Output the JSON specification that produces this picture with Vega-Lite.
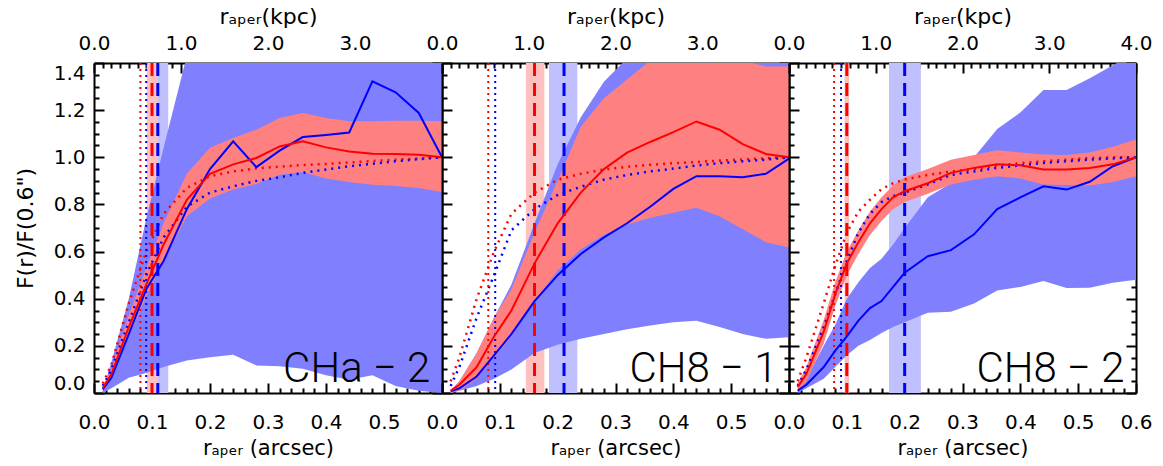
{
"$schema":"https://vega.github.io/schema/vega-lite/v6.json",
"padding":{"left":14,"top":5,"right":0,"bottom":0},
"spacing":0,
"bounds":"flush",
"config":{"view":{"stroke":null},"axis":{"domainColor":"black","domainWidth":2,"tickColor":"black","tickWidth":2,"labelFont":"DejaVu Sans","labelFontSize":20,"labelColor":"black","titleFont":"DejaVu Sans","titleFontSize":21,"titleFontWeight":"normal","titleColor":"black","grid":false,"labelOverlap":false,"labelBound":false,"labelFlush":false}},
"datasets":{
"p1":[
{"r":0.015,"bl":0,"bh":0.01,"rl":0.01,"rh":0.03,"b":0.015,"rd":0.02,"bp":0.03,"rp":0.04},
{"r":0.03,"bl":0.02,"bh":0.13,"rl":0.06,"rh":0.1,"b":0.065,"rd":0.08,"bp":0.1,"rp":0.12},
{"r":0.06,"bl":0.065,"bh":0.4,"rl":0.24,"rh":0.33,"b":0.25,"rd":0.28,"bp":0.3,"rp":0.38},
{"r":0.09,"bl":0.085,"bh":0.74,"rl":0.41,"rh":0.53,"b":0.44,"rd":0.46,"bp":0.5,"rp":0.6},
{"r":0.12,"bl":0.11,"bh":1.04,"rl":0.56,"rh":0.72,"b":0.56,"rd":0.63,"bp":0.66,"rp":0.76},
{"r":0.16,"bl":0.138,"bh":1.43,"rl":0.75,"rh":0.93,"b":0.78,"rd":0.82,"bp":0.79,"rp":0.87},
{"r":0.2,"bl":0.152,"bh":1.85,"rl":0.825,"rh":1.04,"b":0.95,"rd":0.93,"bp":0.85,"rp":0.92},
{"r":0.24,"bl":0.162,"bh":2,"rl":0.863,"rh":1.082,"b":1.068,"rd":0.97,"bp":0.877,"rp":0.94},
{"r":0.28,"bl":0.117,"bh":2,"rl":0.887,"rh":1.117,"b":0.958,"rd":0.997,"bp":0.9,"rp":0.953},
{"r":0.32,"bl":0.113,"bh":2,"rl":0.926,"rh":1.167,"b":1.028,"rd":1.046,"bp":0.915,"rp":0.96},
{"r":0.36,"bl":0.103,"bh":2,"rl":0.938,"rh":1.188,"b":1.086,"rd":1.068,"bp":0.934,"rp":0.967},
{"r":0.4,"bl":0.075,"bh":2,"rl":0.91,"rh":1.167,"b":1.095,"rd":1.042,"bp":0.948,"rp":0.972},
{"r":0.44,"bl":0.056,"bh":2,"rl":0.895,"rh":1.153,"b":1.105,"rd":1.025,"bp":0.962,"rp":0.978},
{"r":0.48,"bl":0.075,"bh":2,"rl":0.884,"rh":1.153,"b":1.322,"rd":1.015,"bp":0.972,"rp":0.984},
{"r":0.52,"bl":0.03,"bh":2,"rl":0.878,"rh":1.155,"b":1.276,"rd":1.014,"bp":0.983,"rp":0.99},
{"r":0.56,"bl":0.01,"bh":2,"rl":0.87,"rh":1.155,"b":1.188,"rd":1.011,"bp":0.992,"rp":0.995},
{"r":0.6,"bl":0,"bh":2,"rl":0.853,"rh":1.153,"b":1.0,"rd":1.0,"bp":1.0,"rp":1.0}],
"p2":[
{"r":0.015,"bl":0,"bh":0.01,"rl":0,"rh":0.01,"b":0.007,"rd":0.01,"bp":0.03,"rp":0.05},
{"r":0.03,"bl":0.01,"bh":0.05,"rl":0.01,"rh":0.05,"b":0.02,"rd":0.035,"bp":0.11,"rp":0.15},
{"r":0.06,"bl":0.03,"bh":0.17,"rl":0.06,"rh":0.17,"b":0.07,"rd":0.11,"bp":0.32,"rp":0.4},
{"r":0.09,"bl":0.06,"bh":0.32,"rl":0.15,"rh":0.32,"b":0.16,"rd":0.24,"bp":0.5,"rp":0.6},
{"r":0.12,"bl":0.1,"bh":0.46,"rl":0.24,"rh":0.44,"b":0.25,"rd":0.35,"bp":0.69,"rp":0.76},
{"r":0.16,"bl":0.17,"bh":0.72,"rl":0.39,"rh":0.68,"b":0.39,"rd":0.55,"bp":0.78,"rp":0.85},
{"r":0.2,"bl":0.205,"bh":0.97,"rl":0.52,"rh":0.9,"b":0.5,"rd":0.72,"bp":0.84,"rp":0.905},
{"r":0.24,"bl":0.23,"bh":1.17,"rl":0.61,"rh":1.13,"b":0.59,"rd":0.85,"bp":0.875,"rp":0.93},
{"r":0.28,"bl":0.25,"bh":1.32,"rl":0.67,"rh":1.25,"b":0.66,"rd":0.95,"bp":0.905,"rp":0.948},
{"r":0.32,"bl":0.27,"bh":1.42,"rl":0.715,"rh":1.33,"b":0.72,"rd":1.02,"bp":0.925,"rp":0.96},
{"r":0.36,"bl":0.286,"bh":1.5,"rl":0.744,"rh":1.41,"b":0.79,"rd":1.065,"bp":0.94,"rp":0.968},
{"r":0.4,"bl":0.3,"bh":1.5,"rl":0.765,"rh":1.43,"b":0.866,"rd":1.107,"bp":0.952,"rp":0.975},
{"r":0.44,"bl":0.307,"bh":1.5,"rl":0.786,"rh":1.43,"b":0.92,"rd":1.152,"bp":0.965,"rp":0.98},
{"r":0.48,"bl":0.28,"bh":1.5,"rl":0.75,"rh":1.42,"b":0.92,"rd":1.117,"bp":0.975,"rp":0.986},
{"r":0.52,"bl":0.25,"bh":1.5,"rl":0.695,"rh":1.41,"b":0.915,"rd":1.056,"bp":0.983,"rp":0.991},
{"r":0.56,"bl":0.23,"bh":1.5,"rl":0.64,"rh":1.385,"b":0.93,"rd":1.014,"bp":0.99,"rp":0.996},
{"r":0.6,"bl":0.237,"bh":1.5,"rl":0.617,"rh":1.385,"b":0.994,"rd":1.0,"bp":1.0,"rp":1.0}],
"p3":[
{"r":0.015,"bl":0,"bh":0.01,"rl":0.01,"rh":0.04,"b":0.01,"rd":0.025,"bp":0.03,"rp":0.05},
{"r":0.03,"bl":0.02,"bh":0.06,"rl":0.05,"rh":0.11,"b":0.035,"rd":0.08,"bp":0.1,"rp":0.15},
{"r":0.06,"bl":0.06,"bh":0.2,"rl":0.21,"rh":0.31,"b":0.11,"rd":0.26,"bp":0.28,"rp":0.38},
{"r":0.08,"bl":0.11,"bh":0.29,"rl":0.37,"rh":0.47,"b":0.18,"rd":0.42,"bp":0.42,"rp":0.54},
{"r":0.1,"bl":0.16,"bh":0.4,"rl":0.5,"rh":0.6,"b":0.24,"rd":0.55,"bp":0.56,"rp":0.68},
{"r":0.12,"bl":0.2,"bh":0.47,"rl":0.59,"rh":0.69,"b":0.307,"rd":0.64,"bp":0.68,"rp":0.77},
{"r":0.14,"bl":0.225,"bh":0.53,"rl":0.67,"rh":0.77,"b":0.36,"rd":0.72,"bp":0.76,"rp":0.82},
{"r":0.16,"bl":0.255,"bh":0.57,"rl":0.73,"rh":0.83,"b":0.39,"rd":0.78,"bp":0.81,"rp":0.865},
{"r":0.18,"bl":0.28,"bh":0.63,"rl":0.78,"rh":0.88,"b":0.45,"rd":0.83,"bp":0.835,"rp":0.89},
{"r":0.2,"bl":0.3,"bh":0.7,"rl":0.81,"rh":0.915,"b":0.51,"rd":0.856,"bp":0.85,"rp":0.906},
{"r":0.24,"bl":0.34,"bh":0.83,"rl":0.845,"rh":0.95,"b":0.58,"rd":0.89,"bp":0.885,"rp":0.925},
{"r":0.28,"bl":0.345,"bh":0.89,"rl":0.885,"rh":0.99,"b":0.606,"rd":0.934,"bp":0.925,"rp":0.94},
{"r":0.32,"bl":0.38,"bh":1.0,"rl":0.905,"rh":1.01,"b":0.673,"rd":0.955,"bp":0.94,"rp":0.95},
{"r":0.36,"bl":0.435,"bh":1.12,"rl":0.92,"rh":1.03,"b":0.78,"rd":0.97,"bp":0.955,"rp":0.965},
{"r":0.4,"bl":0.45,"bh":1.19,"rl":0.91,"rh":1.02,"b":0.83,"rd":0.966,"bp":0.965,"rp":0.975},
{"r":0.44,"bl":0.475,"bh":1.285,"rl":0.885,"rh":1.012,"b":0.877,"rd":0.948,"bp":0.976,"rp":0.983},
{"r":0.48,"bl":0.445,"bh":1.285,"rl":0.882,"rh":1.01,"b":0.863,"rd":0.948,"bp":0.983,"rp":0.99},
{"r":0.52,"bl":0.447,"bh":1.335,"rl":0.88,"rh":1.02,"b":0.896,"rd":0.955,"bp":0.99,"rp":0.997},
{"r":0.56,"bl":0.468,"bh":1.39,"rl":0.895,"rh":1.045,"b":0.962,"rd":0.97,"bp":0.995,"rp":1.0},
{"r":0.6,"bl":0.48,"bh":1.45,"rl":0.92,"rh":1.075,"b":1.0,"rd":1.0,"bp":1.0,"rp":1.0}],
"v1":[{"rdot":0.08,"bdot":0.09,"rdash":0.1,"bdash":0.11,"rh0":0.091,"rh1":0.109,"bh0":0.109,"bh1":0.128,"tx":0.58,"ty":0.045,"t":"CHa − 2"}],
"v2":[{"rdot":0.08,"bdot":0.092,"rdash":0.16,"bdash":0.211,"rh0":0.145,"rh1":0.177,"bh0":0.185,"bh1":0.234,"tx":0.58,"ty":0.045,"t":"CH8 − 1"}],
"v3":[{"rdot":0.078,"bdot":0.09,"rdash":0.1,"bdash":0.2,"rh0":0.096,"rh1":0.104,"bh0":0.173,"bh1":0.228,"tx":0.58,"ty":0.045,"t":"CH8 − 2"}]
},
"hconcat":[
{"width":348,"height":330,"resolve":{"axis":{"x":"independent","y":"independent"}},
"layer":[
{"data":{"name":"v1"},"mark":{"type":"rect","color":"#ffc0c0"},"encoding":{"x":{"field":"rh0","type":"quantitative","scale":{"domain":[0,0.6],"nice":false,"zero":false},"axis":null},"x2":{"field":"rh1"}}},
{"data":{"name":"v1"},"mark":{"type":"rect","color":"#c0c0ff"},"encoding":{"x":{"field":"bh0","type":"quantitative","axis":null},"x2":{"field":"bh1"}}},
{"data":{"name":"p1"},"mark":{"type":"area","color":"#8080ff","opacity":1,"clip":true},"encoding":{
 "x":{"field":"r","type":"quantitative","axis":{"orient":"bottom","values":[0,0.02,0.04,0.06,0.08,0.1,0.12,0.14,0.16,0.18,0.2,0.22,0.24,0.26,0.28,0.3,0.32,0.34,0.36,0.38,0.4,0.42,0.44,0.46,0.48,0.5,0.52,0.54,0.56,0.58,0.6],"tickSize":{"condition":{"test":"abs(datum.value*10-round(datum.value*10))<0.001","value":-10},"value":-5},"labelExpr":"abs(datum.value*10-round(datum.value*10))<0.001 && datum.value<0.55 ? format(datum.value,'.1f') : ''","labelPadding":29,"title":"rₐₚₑᵣ (arcsec)","titlePadding":0}},
 "y":{"field":"bl","type":"quantitative","scale":{"domain":[0,1.4],"nice":false,"zero":false},"axis":{"orient":"left","values":[0,0.05,0.1,0.15,0.2,0.25,0.3,0.35,0.4,0.45,0.5,0.55,0.6,0.65,0.7,0.75,0.8,0.85,0.9,0.95,1,1.05,1.1,1.15,1.2,1.25,1.3,1.35,1.4],"tickSize":{"condition":{"test":"abs(datum.value*5-round(datum.value*5))<0.001","value":-10},"value":-5},"labelExpr":"abs(datum.value*5-round(datum.value*5))<0.001 ? format(datum.value,'.1f') : ''","labelPadding":19,"labelFlush":true,"title":"F(r)/F(0.6\")","titleFontSize":22,"titlePadding":16}},
 "y2":{"field":"bh"}}},
{"data":{"name":"p1"},"mark":{"type":"area","color":"#ff8080","opacity":1,"clip":true},"encoding":{
 "x":{"field":"r","type":"quantitative","axis":{"orient":"top","values":[0,0.015,0.03,0.045,0.06,0.075,0.09,0.105,0.12,0.135,0.15,0.165,0.18,0.195,0.21,0.225,0.24,0.255,0.27,0.285,0.3,0.315,0.33,0.345,0.36,0.375,0.39,0.405,0.42,0.435,0.45,0.465,0.48,0.495,0.51,0.525,0.54,0.555,0.57,0.585,0.6],"tickSize":{"condition":{"test":"abs(datum.value/0.15-round(datum.value/0.15))<0.001","value":-10},"value":-5},"labelExpr":"abs(datum.value/0.15-round(datum.value/0.15))<0.001 && datum.value<0.55 ? format(datum.value/0.15,'.1f') : ''","labelPadding":20,"title":"rₐₚₑᵣ(kpc)","titleFontSize":22,"titlePadding":0}},
 "y":{"field":"rl","type":"quantitative","axis":{"orient":"right","values":[0,0.05,0.1,0.15,0.2,0.25,0.3,0.35,0.4,0.45,0.5,0.55,0.6,0.65,0.7,0.75,0.8,0.85,0.9,0.95,1,1.05,1.1,1.15,1.2,1.25,1.3,1.35,1.4],"tickSize":{"condition":{"test":"abs(datum.value*5-round(datum.value*5))<0.001","value":-10},"value":-5},"labels":false,"title":null}},
 "y2":{"field":"rh"}}},
{"data":{"name":"p1"},"mark":{"type":"line","color":"#ff0000","strokeWidth":2.5,"strokeDash":[2,5]},"encoding":{"x":{"field":"r","type":"quantitative","axis":null},"y":{"field":"rp","type":"quantitative","axis":null}}},
{"data":{"name":"p1"},"mark":{"type":"line","color":"#0000ff","strokeWidth":2.5,"strokeDash":[2,5]},"encoding":{"x":{"field":"r","type":"quantitative","axis":null},"y":{"field":"bp","type":"quantitative","axis":null}}},
{"data":{"name":"v1"},"mark":{"type":"rule","color":"#ff0000","strokeWidth":2,"strokeDash":[2,4]},"encoding":{"x":{"field":"rdot","type":"quantitative","axis":null}}},
{"data":{"name":"v1"},"mark":{"type":"rule","color":"#0000ff","strokeWidth":2,"strokeDash":[2,4]},"encoding":{"x":{"field":"bdot","type":"quantitative","axis":null}}},
{"data":{"name":"v1"},"mark":{"type":"rule","color":"#ff0000","strokeWidth":3,"strokeDash":[13,7]},"encoding":{"x":{"field":"rdash","type":"quantitative","axis":null}}},
{"data":{"name":"v1"},"mark":{"type":"rule","color":"#0000ff","strokeWidth":3,"strokeDash":[13,7]},"encoding":{"x":{"field":"bdash","type":"quantitative","axis":null}}},
{"data":{"name":"p1"},"mark":{"type":"line","color":"#0000ff","strokeWidth":2},"encoding":{"x":{"field":"r","type":"quantitative","axis":null},"y":{"field":"b","type":"quantitative","axis":null}}},
{"data":{"name":"p1"},"mark":{"type":"line","color":"#ff0000","strokeWidth":2},"encoding":{"x":{"field":"r","type":"quantitative","axis":null},"y":{"field":"rd","type":"quantitative","axis":null}}},
{"data":{"name":"v1"},"mark":{"type":"text","align":"right","baseline":"alphabetic","fontSize":42,"font":"Roboto","fontWeight":300,"color":"black"},"encoding":{"x":{"field":"tx","type":"quantitative","axis":null},"y":{"field":"ty","type":"quantitative","axis":null},"text":{"field":"t"}}}
]},
{"width":347,"height":330,"resolve":{"axis":{"x":"independent","y":"independent"}},
"layer":[
{"data":{"name":"v2"},"mark":{"type":"rect","color":"#ffc0c0"},"encoding":{"x":{"field":"rh0","type":"quantitative","scale":{"domain":[0,0.6],"nice":false,"zero":false},"axis":null},"x2":{"field":"rh1"}}},
{"data":{"name":"v2"},"mark":{"type":"rect","color":"#c0c0ff"},"encoding":{"x":{"field":"bh0","type":"quantitative","axis":null},"x2":{"field":"bh1"}}},
{"data":{"name":"p2"},"mark":{"type":"area","color":"#8080ff","opacity":1,"clip":true},"encoding":{
 "x":{"field":"r","type":"quantitative","axis":{"orient":"bottom","values":[0,0.02,0.04,0.06,0.08,0.1,0.12,0.14,0.16,0.18,0.2,0.22,0.24,0.26,0.28,0.3,0.32,0.34,0.36,0.38,0.4,0.42,0.44,0.46,0.48,0.5,0.52,0.54,0.56,0.58,0.6],"tickSize":{"condition":{"test":"abs(datum.value*10-round(datum.value*10))<0.001","value":-10},"value":-5},"labelExpr":"abs(datum.value*10-round(datum.value*10))<0.001 && datum.value<0.55 ? format(datum.value,'.1f') : ''","labelPadding":29,"title":"rₐₚₑᵣ (arcsec)","titlePadding":0}},
 "y":{"field":"bl","type":"quantitative","scale":{"domain":[0,1.4],"nice":false,"zero":false},"axis":{"orient":"left","values":[0,0.05,0.1,0.15,0.2,0.25,0.3,0.35,0.4,0.45,0.5,0.55,0.6,0.65,0.7,0.75,0.8,0.85,0.9,0.95,1,1.05,1.1,1.15,1.2,1.25,1.3,1.35,1.4],"tickSize":{"condition":{"test":"abs(datum.value*5-round(datum.value*5))<0.001","value":-10},"value":-5},"labels":false,"title":null}},
 "y2":{"field":"bh"}}},
{"data":{"name":"p2"},"mark":{"type":"area","color":"#ff8080","opacity":1,"clip":true},"encoding":{
 "x":{"field":"r","type":"quantitative","axis":{"orient":"top","values":[0,0.015,0.03,0.045,0.06,0.075,0.09,0.105,0.12,0.135,0.15,0.165,0.18,0.195,0.21,0.225,0.24,0.255,0.27,0.285,0.3,0.315,0.33,0.345,0.36,0.375,0.39,0.405,0.42,0.435,0.45,0.465,0.48,0.495,0.51,0.525,0.54,0.555,0.57,0.585,0.6],"tickSize":{"condition":{"test":"abs(datum.value/0.15-round(datum.value/0.15))<0.001","value":-10},"value":-5},"labelExpr":"abs(datum.value/0.15-round(datum.value/0.15))<0.001 && datum.value<0.55 ? format(datum.value/0.15,'.1f') : ''","labelPadding":20,"title":"rₐₚₑᵣ(kpc)","titleFontSize":22,"titlePadding":0}},
 "y":{"field":"rl","type":"quantitative","axis":{"orient":"right","values":[0,0.05,0.1,0.15,0.2,0.25,0.3,0.35,0.4,0.45,0.5,0.55,0.6,0.65,0.7,0.75,0.8,0.85,0.9,0.95,1,1.05,1.1,1.15,1.2,1.25,1.3,1.35,1.4],"tickSize":{"condition":{"test":"abs(datum.value*5-round(datum.value*5))<0.001","value":-10},"value":-5},"labels":false,"title":null}},
 "y2":{"field":"rh"}}},
{"data":{"name":"p2"},"mark":{"type":"line","color":"#ff0000","strokeWidth":2.5,"strokeDash":[2,5]},"encoding":{"x":{"field":"r","type":"quantitative","axis":null},"y":{"field":"rp","type":"quantitative","axis":null}}},
{"data":{"name":"p2"},"mark":{"type":"line","color":"#0000ff","strokeWidth":2.5,"strokeDash":[2,5]},"encoding":{"x":{"field":"r","type":"quantitative","axis":null},"y":{"field":"bp","type":"quantitative","axis":null}}},
{"data":{"name":"v2"},"mark":{"type":"rule","color":"#ff0000","strokeWidth":2,"strokeDash":[2,4]},"encoding":{"x":{"field":"rdot","type":"quantitative","axis":null}}},
{"data":{"name":"v2"},"mark":{"type":"rule","color":"#0000ff","strokeWidth":2,"strokeDash":[2,4]},"encoding":{"x":{"field":"bdot","type":"quantitative","axis":null}}},
{"data":{"name":"v2"},"mark":{"type":"rule","color":"#ff0000","strokeWidth":3,"strokeDash":[13,7]},"encoding":{"x":{"field":"rdash","type":"quantitative","axis":null}}},
{"data":{"name":"v2"},"mark":{"type":"rule","color":"#0000ff","strokeWidth":3,"strokeDash":[13,7]},"encoding":{"x":{"field":"bdash","type":"quantitative","axis":null}}},
{"data":{"name":"p2"},"mark":{"type":"line","color":"#0000ff","strokeWidth":2},"encoding":{"x":{"field":"r","type":"quantitative","axis":null},"y":{"field":"b","type":"quantitative","axis":null}}},
{"data":{"name":"p2"},"mark":{"type":"line","color":"#ff0000","strokeWidth":2},"encoding":{"x":{"field":"r","type":"quantitative","axis":null},"y":{"field":"rd","type":"quantitative","axis":null}}},
{"data":{"name":"v2"},"mark":{"type":"text","align":"right","baseline":"alphabetic","fontSize":42,"font":"Roboto","fontWeight":300,"color":"black"},"encoding":{"x":{"field":"tx","type":"quantitative","axis":null},"y":{"field":"ty","type":"quantitative","axis":null},"text":{"field":"t"}}}
]},
{"width":347,"height":330,"resolve":{"axis":{"x":"independent","y":"independent"}},
"layer":[
{"data":{"name":"v3"},"mark":{"type":"rect","color":"#ffc0c0"},"encoding":{"x":{"field":"rh0","type":"quantitative","scale":{"domain":[0,0.6],"nice":false,"zero":false},"axis":null},"x2":{"field":"rh1"}}},
{"data":{"name":"v3"},"mark":{"type":"rect","color":"#c0c0ff"},"encoding":{"x":{"field":"bh0","type":"quantitative","axis":null},"x2":{"field":"bh1"}}},
{"data":{"name":"p3"},"mark":{"type":"area","color":"#8080ff","opacity":1,"clip":true},"encoding":{
 "x":{"field":"r","type":"quantitative","axis":{"orient":"bottom","values":[0,0.02,0.04,0.06,0.08,0.1,0.12,0.14,0.16,0.18,0.2,0.22,0.24,0.26,0.28,0.3,0.32,0.34,0.36,0.38,0.4,0.42,0.44,0.46,0.48,0.5,0.52,0.54,0.56,0.58,0.6],"tickSize":{"condition":{"test":"abs(datum.value*10-round(datum.value*10))<0.001","value":-10},"value":-5},"labelExpr":"abs(datum.value*10-round(datum.value*10))<0.001 ? format(datum.value,'.1f') : ''","labelPadding":29,"title":"rₐₚₑᵣ (arcsec)","titlePadding":0}},
 "y":{"field":"bl","type":"quantitative","scale":{"domain":[0,1.4],"nice":false,"zero":false},"axis":{"orient":"left","values":[0,0.05,0.1,0.15,0.2,0.25,0.3,0.35,0.4,0.45,0.5,0.55,0.6,0.65,0.7,0.75,0.8,0.85,0.9,0.95,1,1.05,1.1,1.15,1.2,1.25,1.3,1.35,1.4],"tickSize":{"condition":{"test":"abs(datum.value*5-round(datum.value*5))<0.001","value":-10},"value":-5},"labels":false,"title":null}},
 "y2":{"field":"bh"}}},
{"data":{"name":"p3"},"mark":{"type":"area","color":"#ff8080","opacity":1,"clip":true},"encoding":{
 "x":{"field":"r","type":"quantitative","axis":{"orient":"top","values":[0,0.015,0.03,0.045,0.06,0.075,0.09,0.105,0.12,0.135,0.15,0.165,0.18,0.195,0.21,0.225,0.24,0.255,0.27,0.285,0.3,0.315,0.33,0.345,0.36,0.375,0.39,0.405,0.42,0.435,0.45,0.465,0.48,0.495,0.51,0.525,0.54,0.555,0.57,0.585,0.6],"tickSize":{"condition":{"test":"abs(datum.value/0.15-round(datum.value/0.15))<0.001","value":-10},"value":-5},"labelExpr":"abs(datum.value/0.15-round(datum.value/0.15))<0.001 ? format(datum.value/0.15,'.1f') : ''","labelPadding":20,"title":"rₐₚₑᵣ(kpc)","titleFontSize":22,"titlePadding":0}},
 "y":{"field":"rl","type":"quantitative","axis":{"orient":"right","values":[0,0.05,0.1,0.15,0.2,0.25,0.3,0.35,0.4,0.45,0.5,0.55,0.6,0.65,0.7,0.75,0.8,0.85,0.9,0.95,1,1.05,1.1,1.15,1.2,1.25,1.3,1.35,1.4],"tickSize":{"condition":{"test":"abs(datum.value*5-round(datum.value*5))<0.001","value":-10},"value":-5},"labels":false,"title":null}},
 "y2":{"field":"rh"}}},
{"data":{"name":"p3"},"mark":{"type":"line","color":"#ff0000","strokeWidth":2.5,"strokeDash":[2,5]},"encoding":{"x":{"field":"r","type":"quantitative","axis":null},"y":{"field":"rp","type":"quantitative","axis":null}}},
{"data":{"name":"p3"},"mark":{"type":"line","color":"#0000ff","strokeWidth":2.5,"strokeDash":[2,5]},"encoding":{"x":{"field":"r","type":"quantitative","axis":null},"y":{"field":"bp","type":"quantitative","axis":null}}},
{"data":{"name":"v3"},"mark":{"type":"rule","color":"#ff0000","strokeWidth":2,"strokeDash":[2,4]},"encoding":{"x":{"field":"rdot","type":"quantitative","axis":null}}},
{"data":{"name":"v3"},"mark":{"type":"rule","color":"#0000ff","strokeWidth":2,"strokeDash":[2,4]},"encoding":{"x":{"field":"bdot","type":"quantitative","axis":null}}},
{"data":{"name":"v3"},"mark":{"type":"rule","color":"#ff0000","strokeWidth":3,"strokeDash":[13,7]},"encoding":{"x":{"field":"rdash","type":"quantitative","axis":null}}},
{"data":{"name":"v3"},"mark":{"type":"rule","color":"#0000ff","strokeWidth":3,"strokeDash":[13,7]},"encoding":{"x":{"field":"bdash","type":"quantitative","axis":null}}},
{"data":{"name":"p3"},"mark":{"type":"line","color":"#0000ff","strokeWidth":2},"encoding":{"x":{"field":"r","type":"quantitative","axis":null},"y":{"field":"b","type":"quantitative","axis":null}}},
{"data":{"name":"p3"},"mark":{"type":"line","color":"#ff0000","strokeWidth":2},"encoding":{"x":{"field":"r","type":"quantitative","axis":null},"y":{"field":"rd","type":"quantitative","axis":null}}},
{"data":{"name":"v3"},"mark":{"type":"text","align":"right","baseline":"alphabetic","fontSize":42,"font":"Roboto","fontWeight":300,"color":"black"},"encoding":{"x":{"field":"tx","type":"quantitative","axis":null},"y":{"field":"ty","type":"quantitative","axis":null},"text":{"field":"t"}}}
]}
]
}
